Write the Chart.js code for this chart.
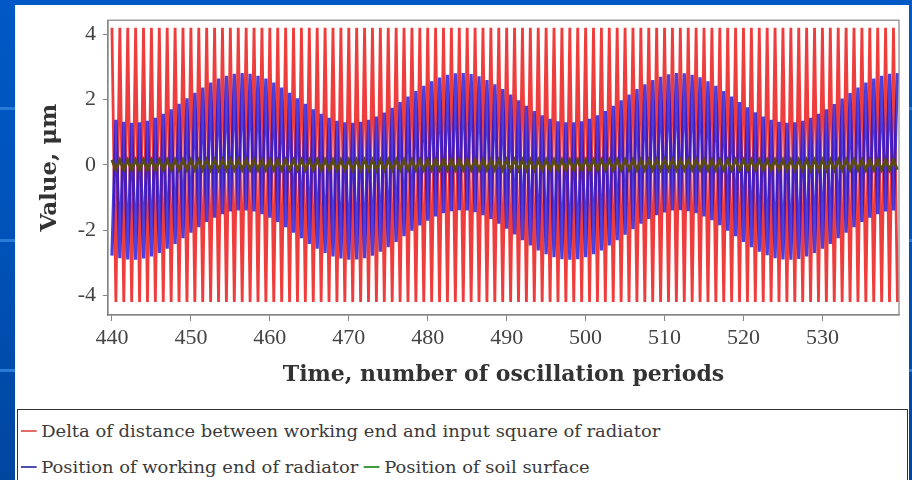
<!DOCTYPE html>
<html><head><meta charset="utf-8">
<script src="https://cdn.jsdelivr.net/npm/chart.js@4.4.1/dist/chart.umd.min.js"></script>
<style>
html,body{margin:0;padding:0;}
body{width:912px;height:480px;overflow:hidden;position:relative;background:linear-gradient(180deg,#0059c6 0%,#0052b8 50%,#00469f 100%);}
.stripe{position:absolute;left:0;width:912px;height:3px;background:#2a7ad8;}
#panel{position:absolute;left:15px;top:5px;width:894px;height:475px;background:#fff;}
#wrap{position:absolute;left:0;top:0;width:912px;height:400px;}
#legend{position:absolute;left:17px;top:409px;width:889px;height:80px;border:1.5px solid #333;background:#fff;font-family:'DejaVu Serif';font-size:16px;color:#3a3a3a;}
.row{position:absolute;left:3px;height:22px;display:flex;align-items:center;white-space:nowrap;transform:scaleX(1.12);transform-origin:0 50%;}
.mk{display:inline-block;width:14px;height:2px;margin-right:4px;}
.gap{display:inline-block;width:5px;}
</style>
</head>
<body>
<div class="stripe" style="top:107px"></div>
<div class="stripe" style="top:239px"></div>
<div class="stripe" style="top:369px"></div>
<div id="panel"></div>
<div id="wrap"><canvas id="c" width="912" height="400"></canvas></div>
<div id="legend"></div>
<script>
// ---- data ----
const periodStarts = [
440,441,442,443,444,445,446,447,448,449,
450,451,452,453,454,455,456,457,458,459,
460,461,462,463,464,465,466,467,468,469,
470,471,472,473,474,475,476,477,478,479,
480,481,482,483,484,485,486,487,488,489,
490,491,492,493,494,495,496,497,498,499,
500,501,502,503,504,505,506,507,508,509,
510,511,512,513,514,515,516,517,518,519,
520,521,522,523,524,525,526,527,528,529,
530,531,532,533,534,535,536,537,538,539];
const halfPeriods = [
440.5,441.5,442.5,443.5,444.5,445.5,446.5,447.5,448.5,449.5,
450.5,451.5,452.5,453.5,454.5,455.5,456.5,457.5,458.5,459.5,
460.5,461.5,462.5,463.5,464.5,465.5,466.5,467.5,468.5,469.5,
470.5,471.5,472.5,473.5,474.5,475.5,476.5,477.5,478.5,479.5,
480.5,481.5,482.5,483.5,484.5,485.5,486.5,487.5,488.5,489.5,
490.5,491.5,492.5,493.5,494.5,495.5,496.5,497.5,498.5,499.5,
500.5,501.5,502.5,503.5,504.5,505.5,506.5,507.5,508.5,509.5,
510.5,511.5,512.5,513.5,514.5,515.5,516.5,517.5,518.5,519.5,
520.5,521.5,522.5,523.5,524.5,525.5,526.5,527.5,528.5,529.5,
530.5,531.5,532.5,533.5,534.5,535.5,536.5,537.5,538.5,539.5];

// Delta of distance (red): peaks at period starts, troughs at half periods
const redHigh = [
4.2,4.2,4.2,4.2,4.2,4.2,4.2,4.2,4.2,4.2,
4.2,4.2,4.2,4.2,4.2,4.2,4.2,4.2,4.2,4.2,
4.2,4.2,4.2,4.2,4.2,4.2,4.2,4.2,4.2,4.2,
4.2,4.2,4.2,4.2,4.2,4.2,4.2,4.2,4.2,4.2,
4.2,4.2,4.2,4.2,4.2,4.2,4.2,4.2,4.2,4.2,
4.2,4.2,4.2,4.2,4.2,4.2,4.2,4.2,4.2,4.2,
4.2,4.2,4.2,4.2,4.2,4.2,4.2,4.2,4.2,4.2,
4.2,4.2,4.2,4.2,4.2,4.2,4.2,4.2,4.2,4.2,
4.2,4.2,4.2,4.2,4.2,4.2,4.2,4.2,4.2,4.2,
4.2,4.2,4.2,4.2,4.2,4.2,4.2,4.2,4.2,4.2];
const redLow = [
-4.2,-4.2,-4.2,-4.2,-4.2,-4.2,-4.2,-4.2,-4.2,-4.2,
-4.2,-4.2,-4.2,-4.2,-4.2,-4.2,-4.2,-4.2,-4.2,-4.2,
-4.2,-4.2,-4.2,-4.2,-4.2,-4.2,-4.2,-4.2,-4.2,-4.2,
-4.2,-4.2,-4.2,-4.2,-4.2,-4.2,-4.2,-4.2,-4.2,-4.2,
-4.2,-4.2,-4.2,-4.2,-4.2,-4.2,-4.2,-4.2,-4.2,-4.2,
-4.2,-4.2,-4.2,-4.2,-4.2,-4.2,-4.2,-4.2,-4.2,-4.2,
-4.2,-4.2,-4.2,-4.2,-4.2,-4.2,-4.2,-4.2,-4.2,-4.2,
-4.2,-4.2,-4.2,-4.2,-4.2,-4.2,-4.2,-4.2,-4.2,-4.2,
-4.2,-4.2,-4.2,-4.2,-4.2,-4.2,-4.2,-4.2,-4.2,-4.2,
-4.2,-4.2,-4.2,-4.2,-4.2,-4.2,-4.2,-4.2,-4.2,-4.2];

// Position of working end (blue): troughs at period starts, peaks at half periods
const blueLow = [
-2.78,-2.86,-2.90,-2.91,-2.87,-2.81,-2.70,-2.57,-2.42,-2.25,
-2.08,-1.91,-1.75,-1.62,-1.51,-1.43,-1.40,-1.40,-1.43,-1.51,
-1.62,-1.75,-1.91,-2.08,-2.25,-2.42,-2.57,-2.70,-2.81,-2.87,
-2.91,-2.90,-2.86,-2.78,-2.66,-2.52,-2.36,-2.19,-2.02,-1.86,
-1.71,-1.58,-1.48,-1.42,-1.39,-1.40,-1.45,-1.54,-1.66,-1.80,
-1.96,-2.13,-2.31,-2.47,-2.62,-2.74,-2.83,-2.89,-2.91,-2.89,
-2.83,-2.74,-2.62,-2.47,-2.31,-2.14,-1.97,-1.80,-1.66,-1.54,
-1.46,-1.40,-1.39,-1.42,-1.48,-1.58,-1.70,-1.85,-2.02,-2.19,
-2.36,-2.52,-2.66,-2.77,-2.86,-2.90,-2.91,-2.88,-2.81,-2.70,
-2.57,-2.42,-2.25,-2.08,-1.91,-1.75,-1.62,-1.51,-1.43,-1.40];
const blueHigh = [
1.38,1.32,1.29,1.30,1.35,1.44,1.56,1.70,1.87,2.04,
2.21,2.37,2.52,2.64,2.73,2.79,2.81,2.79,2.73,2.64,
2.52,2.37,2.21,2.04,1.87,1.70,1.56,1.44,1.35,1.30,
1.29,1.32,1.38,1.48,1.60,1.75,1.92,2.09,2.26,2.42,
2.56,2.67,2.76,2.80,2.81,2.78,2.71,2.60,2.47,2.32,
2.15,1.98,1.81,1.65,1.52,1.41,1.33,1.30,1.30,1.33,
1.41,1.52,1.65,1.81,1.98,2.15,2.32,2.47,2.60,2.70,
2.77,2.81,2.80,2.76,2.68,2.56,2.42,2.26,2.09,1.92,
1.76,1.61,1.48,1.38,1.32,1.29,1.30,1.35,1.44,1.56,
1.70,1.86,2.03,2.20,2.37,2.52,2.64,2.73,2.79,2.81];

// Position of soil surface (green)
const greenHigh = [
0.15,0.15,0.15,0.15,0.15,0.15,0.15,0.15,0.15,0.15,
0.15,0.15,0.15,0.15,0.15,0.15,0.15,0.15,0.15,0.15,
0.15,0.15,0.15,0.15,0.15,0.15,0.15,0.15,0.15,0.15,
0.15,0.15,0.15,0.15,0.15,0.15,0.15,0.15,0.15,0.15,
0.15,0.15,0.15,0.15,0.15,0.15,0.15,0.15,0.15,0.15,
0.15,0.15,0.15,0.15,0.15,0.15,0.15,0.15,0.15,0.15,
0.15,0.15,0.15,0.15,0.15,0.15,0.15,0.15,0.15,0.15,
0.15,0.15,0.15,0.15,0.15,0.15,0.15,0.15,0.15,0.15,
0.15,0.15,0.15,0.15,0.15,0.15,0.15,0.15,0.15,0.15,
0.15,0.15,0.15,0.15,0.15,0.15,0.15,0.15,0.15,0.15];
const greenLow = [
-0.15,-0.15,-0.15,-0.15,-0.15,-0.15,-0.15,-0.15,-0.15,-0.15,
-0.15,-0.15,-0.15,-0.15,-0.15,-0.15,-0.15,-0.15,-0.15,-0.15,
-0.15,-0.15,-0.15,-0.15,-0.15,-0.15,-0.15,-0.15,-0.15,-0.15,
-0.15,-0.15,-0.15,-0.15,-0.15,-0.15,-0.15,-0.15,-0.15,-0.15,
-0.15,-0.15,-0.15,-0.15,-0.15,-0.15,-0.15,-0.15,-0.15,-0.15,
-0.15,-0.15,-0.15,-0.15,-0.15,-0.15,-0.15,-0.15,-0.15,-0.15,
-0.15,-0.15,-0.15,-0.15,-0.15,-0.15,-0.15,-0.15,-0.15,-0.15,
-0.15,-0.15,-0.15,-0.15,-0.15,-0.15,-0.15,-0.15,-0.15,-0.15,
-0.15,-0.15,-0.15,-0.15,-0.15,-0.15,-0.15,-0.15,-0.15,-0.15,
-0.15,-0.15,-0.15,-0.15,-0.15,-0.15,-0.15,-0.15,-0.15,-0.15];

const xTickValues = [440,450,460,470,480,490,500,510,520,530];
const yTickValues = [-4,-2,0,2,4];
const seriesNames = [
  'Delta of distance between working end and input square of radiator',
  'Position of working end of radiator',
  'Position of soil surface'];
const xTitle = 'Time, number of oscillation periods';
const yTitle = 'Value, \u03bcm';

// ---- build point tables from the arrays ----
function interleave(t1, v1, t2, v2){
  const out = [];
  for (let i = 0; i < t1.length; i++){
    out.push({x: t1[i], y: v1[i]});
    out.push({x: t2[i], y: v2[i]});
  }
  return out;
}
const redPts = interleave(periodStarts, redHigh, halfPeriods, redLow);
const bluePts = interleave(periodStarts, blueLow, halfPeriods, blueHigh);
const greenPts = interleave(periodStarts, greenHigh, halfPeriods, greenLow);

const legendColors = ['#e46a6a','#4d4db0','#3f9a3f'];

const frame = {
  id: 'frame',
  afterDatasetsDraw(chart){
    const a = chart.chartArea, ctx = chart.ctx;
    ctx.save();
    ctx.strokeStyle = '#858585';
    ctx.lineWidth = 1.2;
    ctx.strokeRect(a.left, a.top, a.right - a.left, a.bottom - a.top);
    ctx.restore();
  }
};

const tickFont = {family: 'Liberation Serif', size: 22};
const xTitleFont = {family: 'DejaVu Serif', size: 22, weight: 'bold'};
const yTitleFont = {family: 'DejaVu Serif', size: 23, weight: 'bold'};

const chart = new Chart(document.getElementById('c'), {
  type: 'line',
  data: {
    datasets: [
      {label: seriesNames[0], data: redPts, borderColor: 'rgba(236,24,24,0.84)', borderWidth: 2.8, order: 2},
      {label: seriesNames[1], data: bluePts, borderColor: 'rgba(30,18,215,0.8)', borderWidth: 3.2, order: 1},
      {label: seriesNames[2], data: greenPts, borderColor: '#5a4a14', borderWidth: 3, order: 0}
    ]
  },
  options: {
    responsive: false,
    animation: false,
    events: [],
    elements: {point: {radius: 0}, line: {tension: 0}},
    layout: {padding: {top: 15, right: 13, left: 0, bottom: 0}},
    plugins: {legend: {display: false}, tooltip: {enabled: false}},
    scales: {
      x: {
        type: 'linear', min: 439.5, max: 539.7,
        afterBuildTicks: s => { s.ticks = xTickValues.map(v => ({value: v})); },
        afterFit: s => { s.height = 85; },
        grid: {drawOnChartArea: false, drawTicks: true, tickLength: 6, color: '#858585'},
        border: {display: true, color: '#858585', width: 1.2},
        ticks: {font: tickFont, color: '#444', padding: 4, maxRotation: 0},
        title: {display: true, text: xTitle, font: xTitleFont, color: '#333', padding: {top: 0, bottom: 12}}
      },
      y: {
        type: 'linear', min: -4.6, max: 4.43,
        afterBuildTicks: s => { s.ticks = yTickValues.map(v => ({value: v})); },
        afterFit: s => { s.width = 108; },
        grid: {drawOnChartArea: false, drawTicks: true, tickLength: 5, color: '#858585'},
        border: {display: true, color: '#858585', width: 1.2},
        ticks: {font: tickFont, color: '#444', padding: 7},
        title: {display: true, text: yTitle, font: yTitleFont, color: '#333', padding: {top: 36, bottom: 0}}
      }
    }
  },
  plugins: [frame]
});

// ---- legend (real text) built from the dataset labels ----
const lg = document.getElementById('legend');
function item(i){
  return '<span class="mk" style="background:' + legendColors[i] + '"></span><span>' + seriesNames[i] + '</span>';
}
lg.innerHTML =
  '<div class="row" style="top:10px">' + item(0) + '</div>' +
  '<div class="row" style="top:46px">' + item(1) + '<span class="gap"></span>' + item(2) + '</div>';
</script>
</body></html>
